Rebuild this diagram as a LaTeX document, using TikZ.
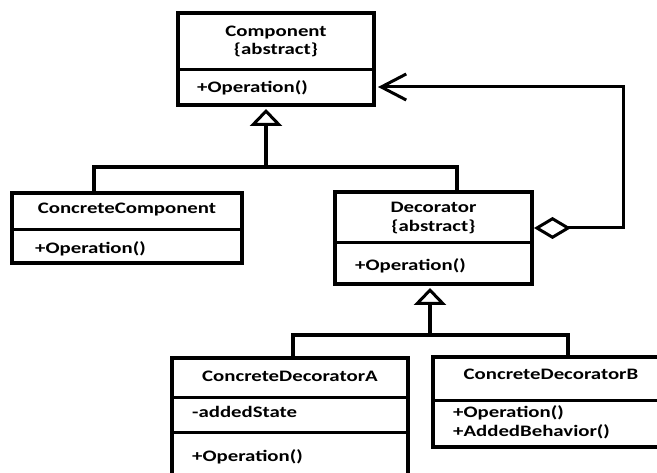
\documentclass[tikz,border=0pt]{standalone}
\usepackage{fontspec}
\setmainfont{Carlito}[FakeStretch=1.3]
\usetikzlibrary{arrows.meta}
\begin{document}
\begin{tikzpicture}[x=1pt,y=-1pt,
  box/.style={draw, line width=4pt, rectangle, inner sep=0pt},
  div/.style={line width=3pt},
  lbl/.style={font=\fontsize{16}{19}\selectfont\bfseries, inner sep=0pt, text=black},
  title/.style={lbl, anchor=base},
  member/.style={lbl, anchor=base west},
  conn/.style={line width=3.5pt},
  inh/.style={line width=4pt, -{Triangle[open, length=17pt, width=32pt, line width=3pt]}},
  aggr/.style={line width=3pt, {Diamond[open, length=37pt, width=22pt, line width=3pt]}-{Straight Barb[length=25pt, width=26pt, line width=3pt]}}
]
\useasboundingbox (0,0) rectangle (657,473);
\clip (0,0) rectangle (657,473);
\fill[white] (0,0) rectangle (657,473);

% Component
\node[box, minimum width=196pt, minimum height=92pt] (comp) at (276,59) {};
\draw[div] (comp.west |- 0,70) -- (comp.east |- 0,70);
\node[title] (compt) at (276,37) {Component};
\node[title] (compa) at (276,55) {\{abstract\}};
\node[member] (compo) at (197,93) {+Operation()};

% ConcreteComponent
\node[box, minimum width=230pt, minimum height=70pt] (cc) at (127,228) {};
\draw[div] (cc.west |- 0,230) -- (cc.east |- 0,230);
\node[title] (cct) at (127,214) {ConcreteComponent};
\node[member] (cco) at (35,254) {+Operation()};

% Decorator
\node[box, minimum width=197pt, minimum height=92pt] (dec) at (433.5,238) {};
\draw[div] (dec.west |- 0,243) -- (dec.east |- 0,243);
\node[title] (dect) at (433.5,213) {Decorator};
\node[title] (deca) at (433.5,232) {\{abstract\}};
\node[member] (deco) at (355,271) {+Operation()};

% ConcreteDecoratorA
\node[box, minimum width=236pt, minimum height=142pt] (cda) at (290,429) {};
\draw[div] (cda.west |- 0,398) -- (cda.east |- 0,398);
\draw[div] (cda.west |- 0,433) -- (cda.east |- 0,433);
\node[title] (cdat) at (290,382) {ConcreteDecoratorA};
\node[member] (cdas) at (192,418) {-addedState};
\node[member] (cdao) at (192,462) {+Operation()};

% ConcreteDecoratorB
\node[box, minimum width=236pt, minimum height=90pt] (cdb) at (551,402) {};
\draw[div] (cdb.west |- 0,401) -- (cdb.east |- 0,401);
\node[title] (cdbt) at (551,380) {ConcreteDecoratorB};
\node[member] (cdbo) at (453,418) {+Operation()};
\node[member] (cdbb) at (453,437) {+AddedBehavior()};

% inheritance Component
\coordinate (j1) at (266,167);
\draw[conn] ([xshift=-33pt]cc.north) |- (j1) -| ([xshift=23.5pt]dec.north);
\draw[inh] (j1) -- ([yshift=-2pt]j1 |- comp.south);

% inheritance Decorator
\coordinate (j2) at (430,335);
\draw[conn] ([xshift=3pt]cda.north) |- (j2) -| ([xshift=17pt]cdb.north);
\draw[inh] (j2) -- ([yshift=-2pt]j2 |- dec.south);

% aggregation
\draw[aggr] ([yshift=10pt]dec.east) -- ++(89,0) |- ([yshift=-28pt, xshift=2pt]comp.east);
\end{tikzpicture}
\end{document}
